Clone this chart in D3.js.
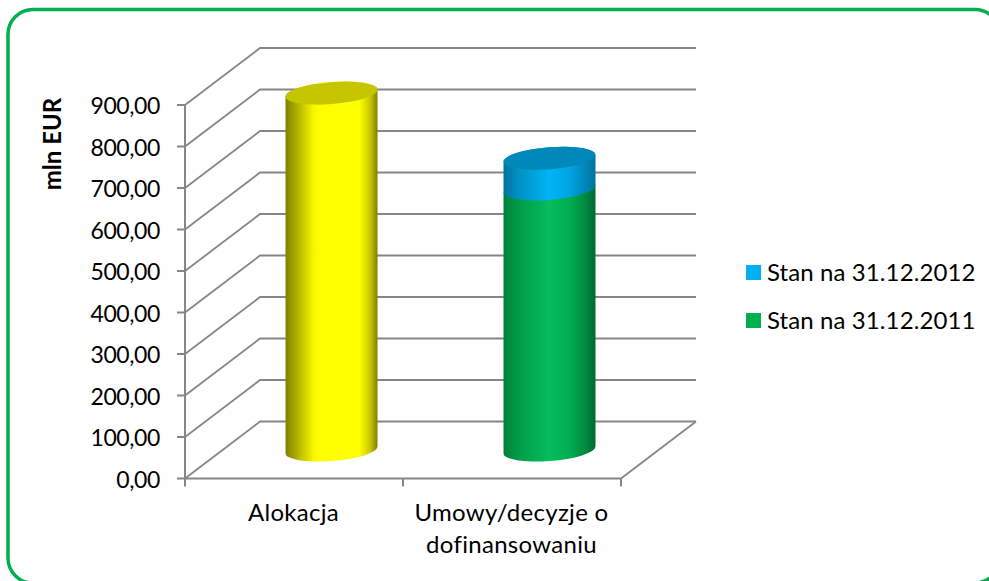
<!DOCTYPE html>
<html><head><meta charset="utf-8">
<script src="https://cdn.jsdelivr.net/npm/d3@7"></script>
<style>html,body{margin:0;padding:0;background:#fff;overflow:hidden}svg{display:block}text{font-family:Lato,Carlito,sans-serif;fill:#000}</style>
</head><body><script>
const categories = ["Alokacja", "Umowy/decyzje o\ndofinansowaniu"];
const totalAllocation = [860, null];
const stan2011 = [null, 629];
const stan2012 = [null, 74];
const yTicks = [0,100,200,300,400,500,600,700,800,900];
const legendLabels = ["Stan na 31.12.2012", "Stan na 31.12.2011"];
const legendColors = ["#00b0f0", "#00b050"];

const W=989,H=581;
const svg=d3.select("body").append("svg").attr("width",W).attr("height",H);
const defs=svg.append("defs");
function grad(id,stops){
  const g=defs.append("linearGradient").attr("id",id).attr("x1",0).attr("x2",1).attr("y1",0).attr("y2",0);
  stops.forEach(s=>g.append("stop").attr("offset",s[0]).attr("stop-color",s[1]));
}
grad("gY",[[0,"#808000"],[.1,"#a6a600"],[.3,"#f5f500"],[.38,"#ffff00"],[.8,"#ffff00"],[.92,"#c8c800"],[1,"#808000"]]);
grad("gG",[[0,"#00803a"],[.15,"#009a46"],[.5,"#05bd5c"],[.72,"#00ad50"],[.88,"#008c40"],[1,"#006a30"]]);
grad("gB",[[0,"#00749e"],[.15,"#008fc2"],[.5,"#00b4f6"],[.72,"#00a4e0"],[.88,"#0088ba"],[1,"#00739e"]]);

svg.append("rect").attr("x",8).attr("y",9.5).attr("width",992).attr("height",573.5).attr("rx",25)
  .attr("fill","#fff").attr("stroke","#00b050").attr("stroke-width",3.5);

const x=d3.scaleBand().domain(categories).range([185,621]);
const y=d3.scaleLinear().domain([0,900]).range([478.5,105]);
const dx=75, dy=-57;
const grid="#868686";
const g=svg.append("g").attr("fill","none").attr("stroke",grid).attr("stroke-width",2);
yTicks.forEach(t=>{
  g.append("path").attr("stroke-width",1.8).attr("d",`M${x.range()[0]},${y(t)}L${x.range()[0]+dx},${y(t)+dy}H${x.range()[1]+dx}`);
  g.append("path").attr("d",`M${x.range()[0]-8},${y(t)}H${x.range()[0]}`);
});
g.append("path").attr("d",`M${x.range()[0]},${y(900)-1}V${y(0)+8}`);
g.append("path").attr("d",`M${x.range()[0]},${y(0)}H${x.range()[1]}`);
g.append("path").attr("stroke-width",1.8).attr("d",`M${x.range()[1]},${y(0)}L${x.range()[1]+dx},${y(0)+dy}`);
categories.forEach(c=>{
  const px=x(c)+x.bandwidth();
  g.append("path").attr("d",`M${px},${y(0)}V${y(0)+8}`);
});

// cylinders
const rx=46.1, ry=11, rot=-4.5, ox=46, oy=3.4;
function cyl(c,v0,v1,fill,top){
  const cx=x(c)+x.bandwidth()/2+dx/2;
  const yb=y(v0)+dy/2, yt=y(v1)+dy/2;
  svg.append("path").attr("fill",`url(#${fill})`)
    .attr("d",`M${cx-ox},${yt+oy}V${yb+oy}A${rx},${ry} ${rot} 0 0 ${cx+ox},${yb-oy}V${yt-oy}A${rx},${ry} ${rot} 0 0 ${cx-ox},${yt+oy}Z`);
  if(top) svg.append("ellipse").attr("cx",cx).attr("cy",yt).attr("rx",rx).attr("ry",ry)
    .attr("transform",`rotate(${rot} ${cx} ${yt})`).attr("fill",top);
}
cyl(categories[0],0,totalAllocation[0],"gY","#c6c600");
cyl(categories[1],0,stan2011[1],"gG",null);
cyl(categories[1],stan2011[1],stan2011[1]+stan2012[1],"gB","#0088ba");

yTicks.forEach(t=>svg.append("text").attr("x",160).attr("y",y(t)+9).attr("text-anchor","end").attr("font-size",23).attr("letter-spacing",-.4)
  .text(d3.format(".2f")(t).replace(".",",")));
categories.forEach(c=>{
  c.split("\n").forEach((l,i)=>svg.append("text").attr("x",x(c)+x.bandwidth()/2-0.5).attr("y",520.5+i*32.5).attr("text-anchor","middle").attr("font-size",24).attr("letter-spacing",.3).text(l));
});
svg.append("text").attr("transform","translate(61,144) rotate(-90)").attr("text-anchor","middle").attr("font-size",24).attr("font-weight",700).text("mln EUR");
legendLabels.forEach((l,i)=>{
  const ly=272.5+i*48;
  svg.append("rect").attr("x",746).attr("y",ly-7.5).attr("width",15).attr("height",15).attr("fill",legendColors[i]);
  svg.append("text").attr("x",767).attr("y",ly+8.5).attr("font-size",24).attr("letter-spacing",.1).text(l);
});
</script></body></html>
